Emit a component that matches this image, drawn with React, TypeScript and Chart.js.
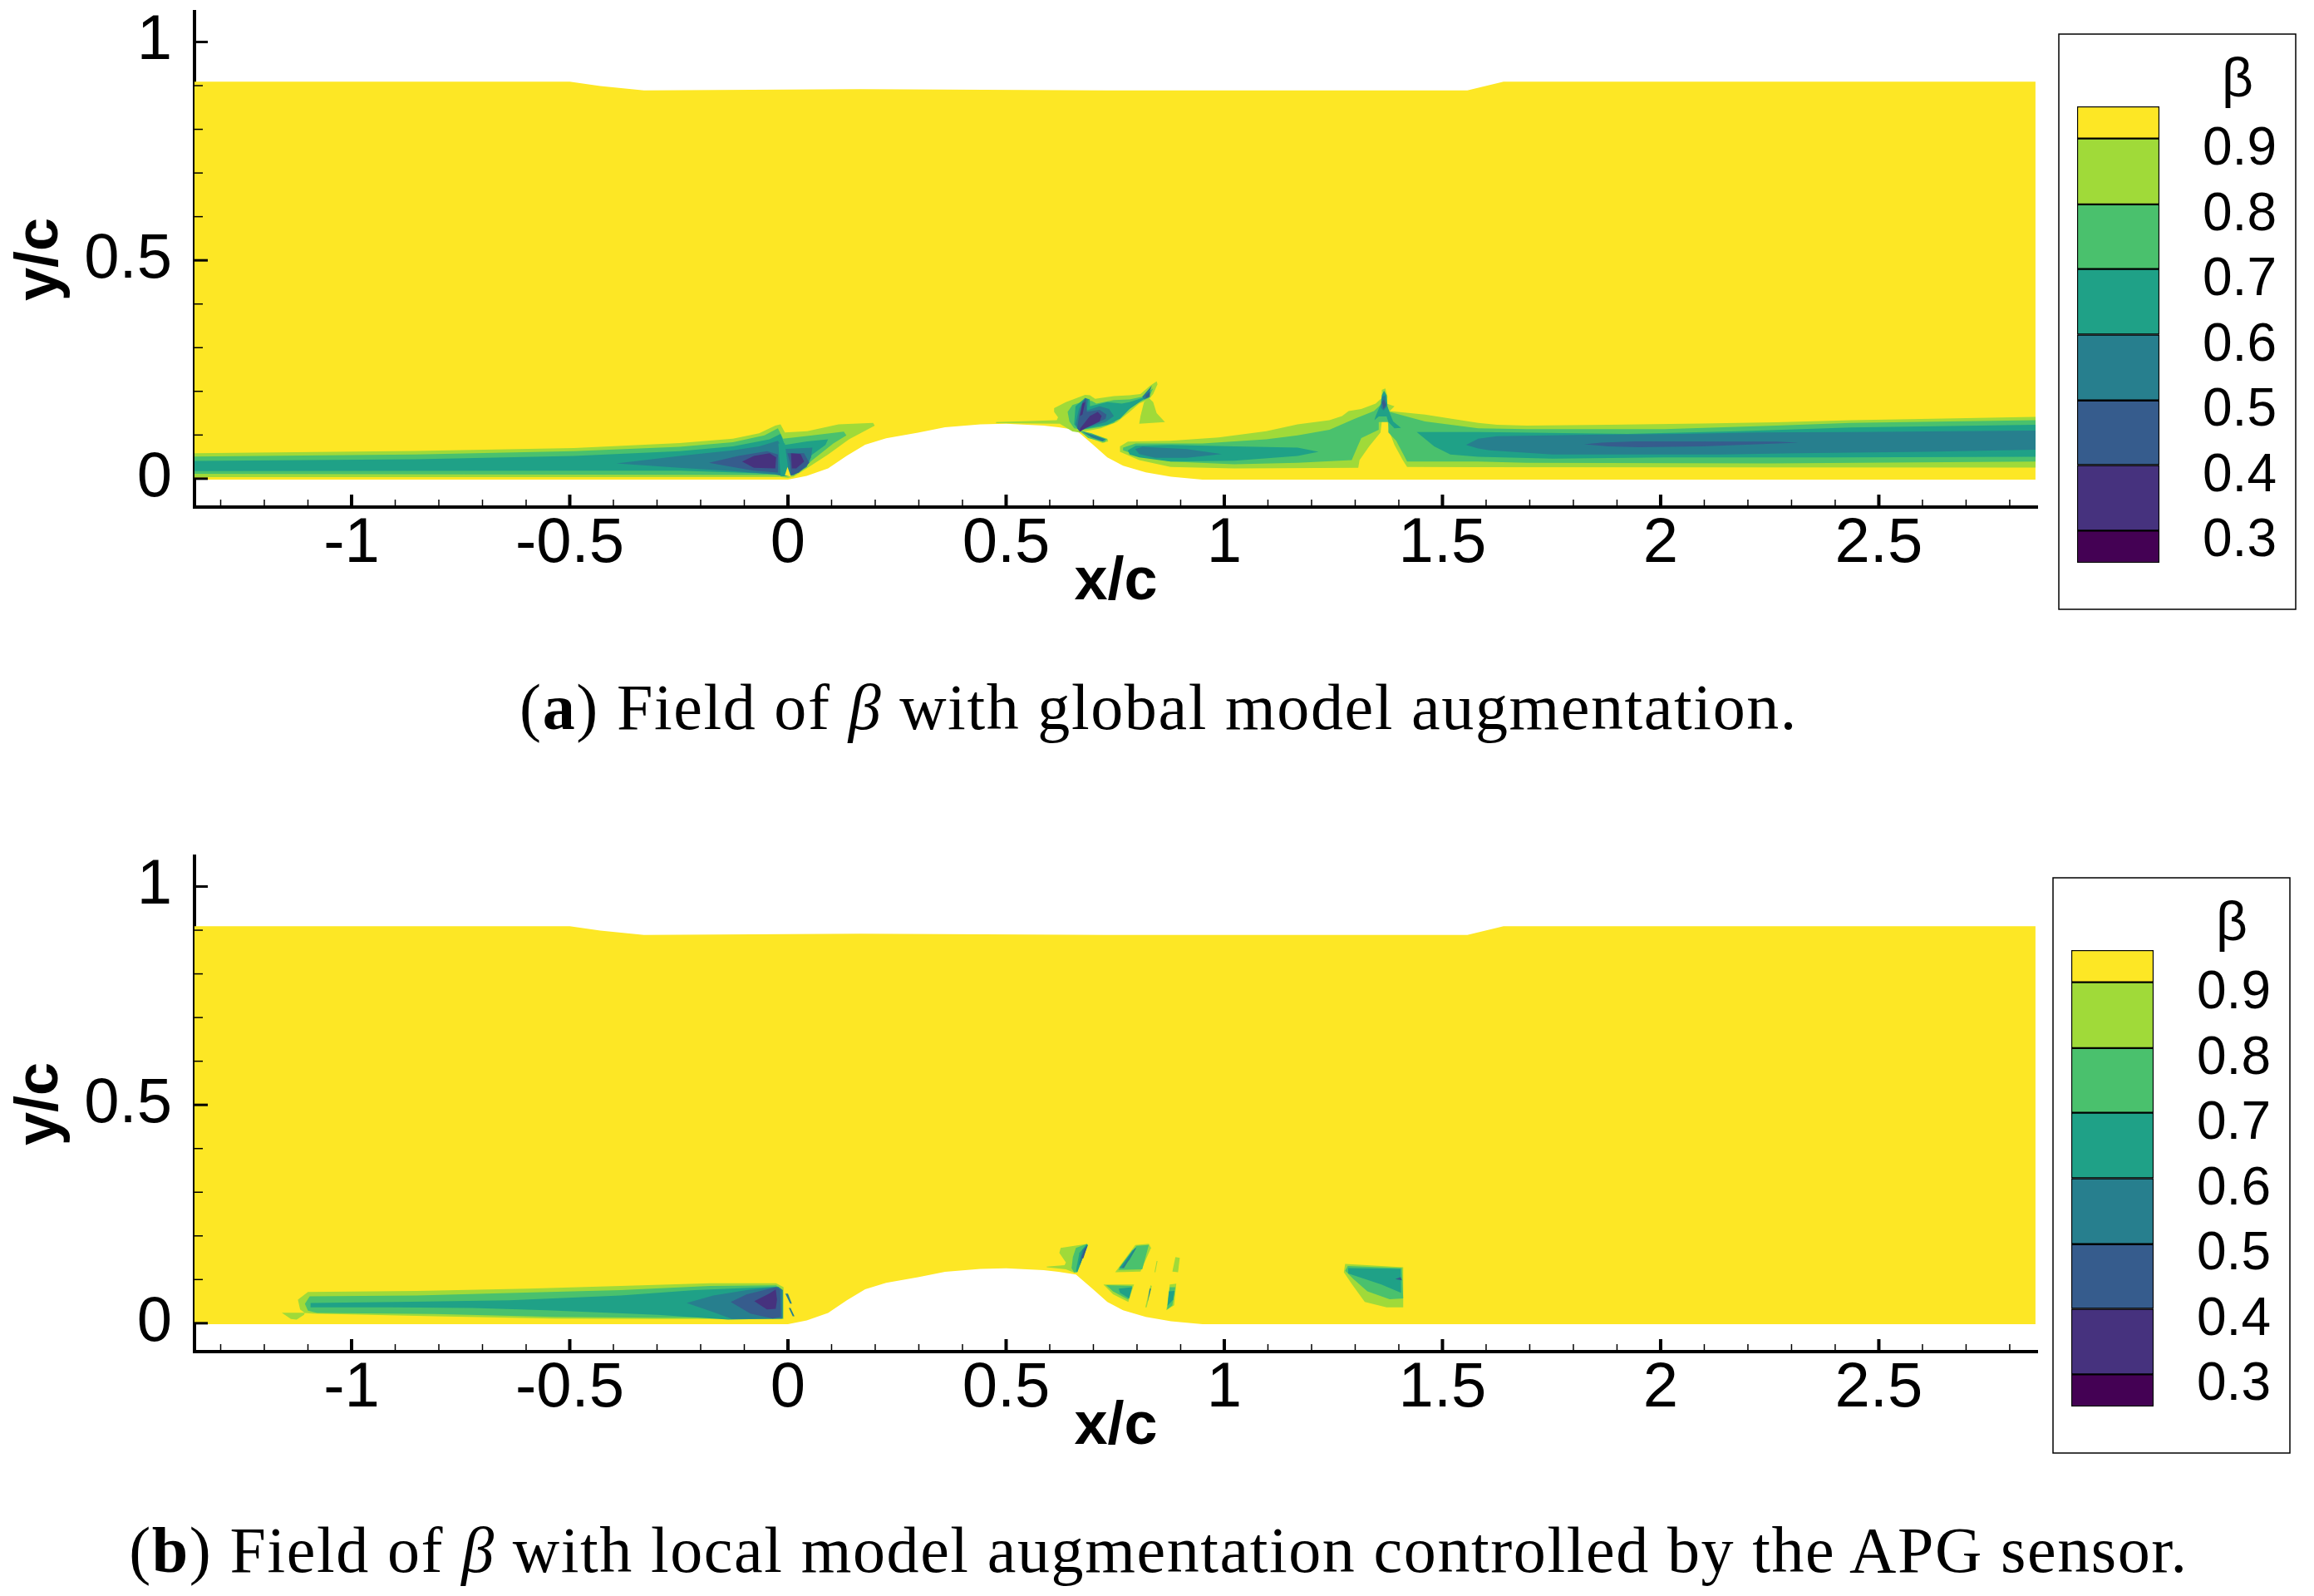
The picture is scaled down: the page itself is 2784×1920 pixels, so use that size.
import React, { useEffect, useRef } from "react";
import { Chart, registerables } from "chart.js";

Chart.register(...registerables);

const xMajor = [-1, -0.5, 0, 0.5, 1, 1.5, 2, 2.5];
const xMinor = [-1.3, -1.2, -1.1, -0.9, -0.8, -0.7, -0.6, -0.4, -0.3, -0.2, -0.1, 0.1, 0.2, 0.3, 0.4, 0.6, 0.7, 0.8, 0.9, 1.1, 1.2, 1.3, 1.4, 1.6, 1.7, 1.8, 1.9, 2.1, 2.2, 2.3, 2.4, 2.6, 2.7, 2.8];
const yMajor = [0, 0.5, 1];
const yMinor = [0.1, 0.2, 0.3, 0.4, 0.6, 0.7, 0.8, 0.9];
const legendLabels = [0.9, 0.8, 0.7, 0.6, 0.5, 0.4, 0.3];
const legendEdges = [0.967, 0.9177, 0.8167, 0.7176, 0.6171, 0.5162, 0.417, 0.3166, 0.2673];
const bandColors = ["#FDE725", "#A0DA39", "#4AC16D", "#1FA187", "#277F8E", "#365C8D", "#46327E", "#440154"];

type P = number[][];
const upperWall: P = [[-1.36, 0.909], [-0.5, 0.909], [-0.43, 0.899], [-0.33, 0.889], [0.166, 0.892], [0.73, 0.889], [1.557, 0.889], [1.64, 0.909], [2.859, 0.909]];
const lowerWall: P = [[2.859, -0.002], [0.95, -0.002], [0.878, 0.0045], [0.82, 0.0145], [0.768, 0.0295], [0.732, 0.0485], [0.696, 0.0806], [0.66, 0.1116], [0.62, 0.1176], [0.586, 0.1216], [0.5, 0.1256], [0.441, 0.1246], [0.36, 0.1176], [0.298, 0.1056], [0.225, 0.0926], [0.177, 0.0776], [0.135, 0.0526], [0.092, 0.0236], [0.043, 0.0066], [0, -0.002], [-1.36, -0.002]];
const domain: P = [...upperWall, ...lowerWall];
const readingOffsetA = -0.0055;
const readingOffsetB = -0.0023;

// Panel (a): upstream wake
const aUp9: P = [[-1.36, 0.0638], [-0.854, 0.0689], [-0.49, 0.0758], [-0.248, 0.0872], [-0.126, 0.0973], [-0.066, 0.1093], [-0.029, 0.127], [-0.017, 0.1301], [-0.007, 0.1112], [0.044, 0.1143], [0.116, 0.1301], [0.195, 0.1333], [0.199, 0.127], [0.14, 0.0954], [0.092, 0.0607], [0.043, 0.0291], [0.013, 0.0102], [0, 0.007], [-0.017, 0.0089], [-1.36, 0.0089]];
const aUp8: P = [[-1.36, 0.0563], [-0.854, 0.0607], [-0.49, 0.0683], [-0.248, 0.0784], [-0.126, 0.0891], [-0.054, 0.1049], [-0.023, 0.1207], [-0.011, 0.0973], [0.056, 0.1049], [0.128, 0.1131], [0.134, 0.1049], [0.104, 0.086], [0.056, 0.048], [0.025, 0.0196], [0.001, 0.0114], [-0.017, 0.014], [-1.36, 0.0165]];
const aUp7: P = [[-1.36, 0.0462], [-0.854, 0.05], [-0.49, 0.0575], [-0.248, 0.0683], [-0.126, 0.0796], [-0.042, 0.0954], [-0.017, 0.108], [-0.007, 0.0828], [0.044, 0.091], [0.092, 0.0954], [0.086, 0.0828], [0.056, 0.0607], [0.025, 0.0259], [0.001, 0.0152], [-0.029, 0.0165], [-0.248, 0.024], [-0.49, 0.024], [-1.36, 0.0228]];
const aUp6: P = [[-0.393, 0.0405], [-0.248, 0.0575], [-0.126, 0.0702], [-0.066, 0.0796], [-0.023, 0.0922], [-0.011, 0.0733], [0.056, 0.0765], [0.053, 0.0544], [0.043, 0.0323], [0.013, 0.0133], [-0.011, 0.0114], [-0.029, 0.0152], [-0.126, 0.0228], [-0.248, 0.0304]];
const aUp5L: P = [[-0.181, 0.0417], [-0.114, 0.0575], [-0.048, 0.0683], [-0.023, 0.0607], [-0.023, 0.0196], [-0.078, 0.024], [-0.138, 0.0342]];
const aUp5R: P = [[-0.001, 0.0638], [0.037, 0.0638], [0.049, 0.0417], [0.025, 0.0196], [0.007, 0.0133], [0.005, 0.0417]];
const aUp4L: P = [[-0.105, 0.0449], [-0.078, 0.0575], [-0.042, 0.0638], [-0.027, 0.0544], [-0.029, 0.0291], [-0.078, 0.0304]];
const aUp4R: P = [[0.007, 0.0638], [0.029, 0.0619], [0.037, 0.0449], [0.019, 0.0291], [0.009, 0.0291]];
const aStripe7: P = [[-0.022, 0.086], [-0.007, 0.086], [0.003, 0.0114], [-0.017, 0.0114]];
const aSliver: P = [[-0.001, 0.0323], [0.007, 0.0102], [-0.007, 0.0133]];

// Panel (a): crest separation patch
const aCrest9: P = [[0.477, 0.1352], [0.616, 0.1396], [0.619, 0.1459], [0.61, 0.1586], [0.61, 0.1668], [0.637, 0.1807], [0.681, 0.1977], [0.692, 0.1964], [0.704, 0.1882], [0.747, 0.1945], [0.783, 0.1964], [0.808, 0.1996], [0.83, 0.2185], [0.845, 0.2286], [0.847, 0.2217], [0.837, 0.1996], [0.827, 0.187], [0.805, 0.1775], [0.783, 0.1586], [0.754, 0.1352], [0.717, 0.1207], [0.667, 0.1112], [0.652, 0.1137], [0.623, 0.1314], [0.477, 0.1327]];
const aTri9: P = [[0.816, 0.1807], [0.827, 0.1901], [0.837, 0.1807], [0.845, 0.1554], [0.864, 0.1352], [0.805, 0.1314], [0.808, 0.1491]];
const aStreak9: P = [[0.663, 0.1163], [0.696, 0.108], [0.732, 0.0973], [0.734, 0.091], [0.721, 0.0872], [0.692, 0.0986]];
const aStreak8: P = [[0.668, 0.1163], [0.696, 0.1093], [0.732, 0.0954], [0.725, 0.0891], [0.688, 0.0986]];
const aStreak6: P = [[0.674, 0.1131], [0.703, 0.1049], [0.728, 0.0954], [0.721, 0.091], [0.696, 0.0998]];
const aCrest8: P = [[0.641, 0.1586], [0.652, 0.1743], [0.681, 0.1838], [0.696, 0.1838], [0.707, 0.1775], [0.747, 0.1857], [0.783, 0.187], [0.812, 0.1933], [0.827, 0.2059], [0.837, 0.2122], [0.827, 0.1901], [0.805, 0.1807], [0.772, 0.1586], [0.747, 0.1333], [0.717, 0.1238], [0.674, 0.1175], [0.656, 0.1207], [0.645, 0.1365]];
const aCrest7: P = [[0.659, 0.1712], [0.681, 0.1901], [0.692, 0.187], [0.692, 0.1712], [0.732, 0.1807], [0.765, 0.1775], [0.783, 0.1807], [0.812, 0.1901], [0.827, 0.2027], [0.837, 0.2154], [0.819, 0.1901], [0.783, 0.1649], [0.761, 0.1428], [0.732, 0.1289], [0.688, 0.1207], [0.667, 0.1163], [0.656, 0.1301]];
const aCrest6: P = [[0.667, 0.1649], [0.681, 0.1901], [0.688, 0.187], [0.685, 0.1617], [0.714, 0.1712], [0.736, 0.1649], [0.747, 0.1491], [0.728, 0.1352], [0.688, 0.1238], [0.667, 0.1163], [0.659, 0.1301]];
const aCross6: P = [[0.834, 0.2185], [0.827, 0.1996], [0.83, 0.1933], [0.816, 0.187], [0.812, 0.1933], [0.823, 0.2059]];
const aCross5: P = [[0.82, 0.197], [0.83, 0.205], [0.829, 0.195], [0.82, 0.189]];
const aCrest5: P = [[0.667, 0.1491], [0.675, 0.1807], [0.683, 0.1882], [0.685, 0.1586], [0.714, 0.163], [0.73, 0.1522], [0.728, 0.1428], [0.696, 0.127], [0.668, 0.1144], [0.663, 0.1207]];
const aCrest4A: P = [[0.669, 0.1491], [0.675, 0.1775], [0.681, 0.1807], [0.675, 0.1523]];
const aCrest4B: P = [[0.67, 0.1207], [0.692, 0.1491], [0.71, 0.1586], [0.719, 0.1491], [0.714, 0.1365], [0.681, 0.1207], [0.668, 0.1125]];

// Panel (a): long downstream wake
const aLong9: P = [[0.761, 0.0796], [0.779, 0.0904], [0.877, 0.0923], [0.987, 0.0998], [1.096, 0.1144], [1.168, 0.1301], [1.241, 0.1396], [1.27, 0.1491], [1.285, 0.1605], [1.314, 0.1649], [1.347, 0.1775], [1.361, 0.1901], [1.361, 0.2091], [1.369, 0.2122], [1.374, 0.1933], [1.372, 0.1775], [1.39, 0.1712], [1.379, 0.1605], [1.46, 0.1522], [1.582, 0.1333], [1.625, 0.1289], [1.693, 0.127], [1.881, 0.1289], [2.094, 0.132], [2.265, 0.1345], [2.436, 0.1396], [2.623, 0.1428], [2.859, 0.1472], [2.859, 0.031], [1.582, 0.0318], [1.419, 0.0323], [1.409, 0.0481], [1.39, 0.0828], [1.379, 0.1112], [1.374, 0.1365], [1.361, 0.1365], [1.358, 0.1112], [1.332, 0.0796], [1.31, 0.0481], [1.307, 0.0304], [1.023, 0.0291], [0.877, 0.0323], [0.805, 0.0481], [0.761, 0.067]];
const aLong8: P = [[0.768, 0.0765], [0.797, 0.086], [0.95, 0.086], [1.096, 0.0954], [1.168, 0.1049], [1.241, 0.1175], [1.299, 0.1428], [1.343, 0.1605], [1.365, 0.1807], [1.379, 0.1586], [1.46, 0.1365], [1.582, 0.1207], [1.693, 0.1188], [2.009, 0.1188], [2.265, 0.127], [2.436, 0.1333], [2.859, 0.1396], [2.859, 0.0449], [2.248, 0.0405], [1.693, 0.0417], [1.582, 0.0449], [1.419, 0.0449], [1.394, 0.0923], [1.376, 0.1112], [1.376, 0.1352], [1.354, 0.1352], [1.354, 0.1175], [1.314, 0.0986], [1.307, 0.0828], [1.292, 0.0481], [1.168, 0.0418], [1.023, 0.0386], [0.877, 0.0449], [0.805, 0.0575], [0.768, 0.0702]];
const aNear7: P = [[0.779, 0.0702], [0.797, 0.0809], [0.877, 0.0828], [1.023, 0.0796], [1.168, 0.0765], [1.216, 0.067], [1.168, 0.0575], [1.023, 0.0468], [0.877, 0.0449], [0.805, 0.0544], [0.783, 0.0607]];
const aNear6: P = [[0.796, 0.0733], [0.812, 0.0784], [0.914, 0.0733], [0.994, 0.062], [0.914, 0.0531], [0.841, 0.0531], [0.805, 0.062]];
const aFar7: P = [[1.441, 0.1125], [1.582, 0.1125], [1.667, 0.1112], [1.923, 0.108], [2.18, 0.1143], [2.436, 0.1226], [2.859, 0.1289], [2.859, 0.0556], [2.393, 0.0544], [2.009, 0.0544], [1.753, 0.0512], [1.582, 0.0555], [1.518, 0.0607], [1.481, 0.0796]];
const aFar6: P = [[1.554, 0.0828], [1.582, 0.0973], [1.625, 0.103], [1.838, 0.1061], [2.052, 0.108], [2.222, 0.1112], [2.436, 0.1125], [2.859, 0.1156], [2.859, 0.072], [2.606, 0.067], [2.308, 0.0638], [2.137, 0.0607], [1.753, 0.0607], [1.608, 0.0702], [1.582, 0.0746]];
const aFar5: P = [[1.825, 0.084], [1.864, 0.0878], [1.941, 0.091], [2.265, 0.0903], [2.316, 0.0878], [2.094, 0.0796], [1.949, 0.0777], [1.881, 0.0796]];
const aPeak7: P = [[1.347, 0.1491], [1.359, 0.1775], [1.361, 0.1964], [1.366, 0.2072], [1.372, 0.1964], [1.374, 0.1712], [1.379, 0.1567], [1.387, 0.1365], [1.405, 0.1219], [1.39, 0.1207], [1.376, 0.1352], [1.372, 0.1478], [1.354, 0.1478], [1.344, 0.1396]];
const aPeak6: P = [[1.359, 0.168], [1.362, 0.193], [1.369, 0.196], [1.372, 0.171], [1.365, 0.162]];
const aPeak5: P = [[1.361, 0.181], [1.366, 0.187], [1.371, 0.174], [1.365, 0.165]];

// Panel (b)
const bUp9: P = [[-1.107, 0.0259], [-1.118, 0.034], [-1.123, 0.0562], [-1.1, 0.0739], [-0.85, 0.0764], [-0.595, 0.0814], [-0.383, 0.0877], [-0.179, 0.094], [-0.027, 0.094], [-0.01, 0.0846], [-0.01, 0.012], [-0.298, 0.012], [-0.536, 0.0132], [-0.808, 0.0183], [-1.088, 0.0246]];
const bTip9: P = [[-1.16, 0.0262], [-1.107, 0.0262], [-1.109, 0.0215], [-1.126, 0.0107], [-1.139, 0.0119]];
const bUp8: P = [[-1.107, 0.0467], [-1.096, 0.0638], [-0.85, 0.0656], [-0.638, 0.0713], [-0.383, 0.0783], [-0.179, 0.0877], [-0.027, 0.089], [-0.012, 0.0783], [-0.012, 0.0151], [-0.298, 0.0151], [-0.536, 0.017], [-0.808, 0.0233], [-1.079, 0.0259], [-1.1, 0.031]];
const bUp7: P = [[-1.094, 0.0486], [-0.892, 0.0511], [-0.638, 0.0549], [-0.383, 0.0656], [-0.213, 0.0783], [-0.027, 0.0858], [-0.014, 0.0783], [-0.014, 0.0132], [-0.137, 0.0107], [-0.298, 0.0215], [-0.553, 0.0322], [-0.723, 0.0372], [-0.905, 0.0385], [-1.094, 0.0385]];
const bUp6: P = [[-0.232, 0.0486], [-0.171, 0.0656], [-0.094, 0.0783], [-0.022, 0.0858], [-0.012, 0.0783], [-0.012, 0.0132], [-0.128, 0.012], [-0.171, 0.0278]];
const bUp5: P = [[-0.131, 0.0511], [-0.094, 0.0688], [-0.027, 0.0846], [-0.018, 0.0802], [-0.016, 0.017], [-0.035, 0.0132], [-0.086, 0.0246]];
const bUp4: P = [[-0.077, 0.053], [-0.043, 0.07], [-0.028, 0.0795], [-0.025, 0.0562], [-0.028, 0.0353], [-0.048, 0.034], [-0.065, 0.0448]];
const bDashA: P = [[-0.006, 0.07], [0, 0.07], [0.009, 0.047], [0.005, 0.047]];
const bDashB: P = [[0.002, 0.037], [0.006, 0.037], [0.015, 0.018], [0.011, 0.018]];
const bP1a: P = [[0.593, 0.1319], [0.634, 0.1351], [0.637, 0.1414], [0.622, 0.1635], [0.625, 0.1749], [0.656, 0.1793], [0.685, 0.1837], [0.688, 0.1824], [0.663, 0.1288], [0.656, 0.118], [0.637, 0.1256], [0.593, 0.1307]];
const bP1b: P = [[0.65, 0.1288], [0.653, 0.154], [0.66, 0.1749], [0.685, 0.1837], [0.687, 0.1793], [0.663, 0.1193], [0.656, 0.118]];
const bP1c: P = [[0.66, 0.1225], [0.668, 0.1635], [0.685, 0.1837], [0.686, 0.1793], [0.663, 0.1193]];
const bP1d: P = [[0.668, 0.1414], [0.675, 0.1698], [0.687, 0.1824], [0.669, 0.1351]];
const bP1e: P = [[0.672, 0.1509], [0.68, 0.173], [0.687, 0.1812], [0.677, 0.1509]];
const bP2a: P = [[0.75, 0.1193], [0.796, 0.1812], [0.827, 0.1843], [0.832, 0.1749], [0.808, 0.1206]];
const bP2b: P = [[0.757, 0.1244], [0.799, 0.1793], [0.827, 0.1812], [0.812, 0.1256]];
const bP2c: P = [[0.759, 0.1288], [0.789, 0.1685], [0.799, 0.1761], [0.783, 0.1477], [0.764, 0.1288]];
const bP2d: P = [[0.764, 0.1288], [0.796, 0.1749], [0.797, 0.1725], [0.77, 0.1288]];
const bP3a: P = [[0.723, 0.0909], [0.793, 0.0909], [0.78, 0.0511], [0.745, 0.0688]];
const bP3b: P = [[0.729, 0.0896], [0.789, 0.0877], [0.78, 0.0562], [0.745, 0.0751]];
const bP3c: P = [[0.758, 0.0814], [0.789, 0.0846], [0.782, 0.0593], [0.761, 0.072]];
const bThinA: P = [[0.831, 0.089], [0.834, 0.0877], [0.822, 0.0385], [0.819, 0.0385]];
const bThinB: P = [[0.829, 0.0814], [0.832, 0.0814], [0.824, 0.05], [0.823, 0.05]];
const bThinC: P = [[0.847, 0.145], [0.845, 0.145], [0.84, 0.119], [0.842, 0.119]];
const bP5: P = [[0.888, 0.154], [0.898, 0.1521], [0.894, 0.1193], [0.881, 0.1206]];
const bP6a: P = [[0.875, 0.091], [0.89, 0.0928], [0.885, 0.0435], [0.867, 0.0322], [0.869, 0.0435]];
const bP6b: P = [[0.875, 0.0846], [0.888, 0.0846], [0.881, 0.0435], [0.869, 0.034]];
const bP6c: P = [[0.873, 0.0751], [0.886, 0.0764], [0.883, 0.0562], [0.87, 0.0423]];
const bP7a: P = [[1.277, 0.1382], [1.41, 0.1307], [1.41, 0.0385], [1.372, 0.0385], [1.322, 0.0511], [1.293, 0.0909], [1.274, 0.1193]];
const bP7b: P = [[1.283, 0.1332], [1.407, 0.1288], [1.41, 0.0593], [1.379, 0.0574], [1.328, 0.0751], [1.296, 0.1035], [1.277, 0.1225]];
const bP7c: P = [[1.284, 0.1288], [1.404, 0.1269], [1.405, 0.072], [1.36, 0.0909], [1.284, 0.1161]];
const bP7d: P = [[1.392, 0.1035], [1.404, 0.108], [1.407, 0.1004]];

// [band index, polygon], back to front
const panelA: [number, P][] = [
  [1, aUp9], [2, aUp8], [3, aUp7], [4, aUp6], [5, aUp5L], [5, aUp5R], [6, aUp4L], [6, aUp4R], [3, aStripe7], [0, aSliver],
  [1, aCrest9], [1, aTri9], [1, aStreak9], [2, aStreak8], [4, aStreak6],
  [2, aCrest8], [3, aCrest7], [4, aCrest6], [4, aCross6], [5, aCross5], [5, aCrest5], [6, aCrest4A], [6, aCrest4B],
  [1, aLong9], [2, aLong8], [3, aNear7], [4, aNear6], [3, aFar7], [4, aFar6], [5, aFar5], [3, aPeak7], [4, aPeak6], [5, aPeak5],
];
const panelB: [number, P][] = [
  [1, bUp9], [1, bTip9], [2, bUp8], [3, bUp7], [4, bUp6], [5, bUp5], [6, bUp4], [4, bDashA], [4, bDashB],
  [1, bP1a], [2, bP1b], [3, bP1c], [4, bP1d], [5, bP1e],
  [1, bP2a], [2, bP2b], [3, bP2c], [4, bP2d],
  [1, bP3a], [2, bP3b], [3, bP3c],
  [1, bThinA], [4, bThinB], [1, bThinC], [1, bP5],
  [1, bP6a], [2, bP6b], [3, bP6c],
  [1, bP7a], [2, bP7b], [3, bP7c], [5, bP7d],
];

const SANS = '"Liberation Sans", Arial, sans-serif';

const innerTicks = {
  id: "innerTicks",
  afterDatasetsDraw(chart: any) {
    const { ctx, scales, chartArea } = chart;
    ctx.save();
    ctx.strokeStyle = "#000";
    const xs = (vals: number[], len: number, w: number) => {
      ctx.lineWidth = w;
      vals.forEach((v) => {
        const p = scales.x.getPixelForValue(v);
        ctx.beginPath(); ctx.moveTo(p, chartArea.bottom); ctx.lineTo(p, chartArea.bottom - len); ctx.stroke();
      });
    };
    const ys = (vals: number[], len: number, w: number) => {
      ctx.lineWidth = w;
      vals.forEach((v) => {
        const p = scales.y.getPixelForValue(v);
        ctx.beginPath(); ctx.moveTo(chartArea.left, p); ctx.lineTo(chartArea.left + len, p); ctx.stroke();
      });
    };
    xs(xMajor, 15, 4); xs(xMinor, 9, 1.5); ys(yMajor, 16, 3); ys(yMinor, 10, 1.5);
    ctx.restore();
  },
};

const noScalePadding = (s: any) => { s.paddingTop = 0; s.paddingBottom = 0; s.paddingLeft = 0; s.paddingRight = 0; };

function makeField(canvas: HTMLCanvasElement, layers: [number, P][], offset: number) {
  const sets = [
    { band: 0, pts: domain.map(([x, y]) => ({ x, y })) },
    ...layers.map(([band, poly]) => ({ band, pts: poly.map(([x, y]) => ({ x, y: y + offset })) })),
  ];
  return new Chart(canvas, {
    type: "scatter",
    data: {
      datasets: sets.map(({ band, pts }, i) => ({
        data: pts,
        showLine: true,
        fill: "shape",
        borderWidth: 0,
        pointRadius: 0,
        tension: 0,
        backgroundColor: bandColors[band],
        borderColor: bandColors[band],
        order: sets.length - i,
      })),
    },
    plugins: [innerTicks],
    options: {
      responsive: false,
      animation: false,
      events: [],
      layout: { padding: { left: 0, top: 14, right: 19, bottom: 0 } },
      plugins: { legend: { display: false }, tooltip: { enabled: false } },
      scales: {
        x: {
          type: "linear", min: -1.36, max: 2.863,
          afterBuildTicks: (s: any) => { s.ticks = [...xMajor, ...xMinor].sort((a, b) => a - b).map((value) => ({ value })); },
          afterFit: (s: any) => { s.height = 150; noScalePadding(s); },
          grid: { display: false, drawTicks: false },
          border: { color: "#000", width: 4 },
          ticks: {
            autoSkip: false, maxRotation: 0, minRotation: 0, padding: -1, color: "#000",
            font: { family: SANS, size: 76 },
            callback: (v: any) => (xMajor.includes(v) ? String(v) : ""),
          },
          title: { display: true, text: "x/c", color: "#000", font: { family: SANS, size: 72, weight: "bold", lineHeight: 1 }, padding: { top: 0, bottom: 23 } },
        },
        y: {
          type: "linear", min: -0.065, max: 1.0695,
          afterBuildTicks: (s: any) => { s.ticks = [...yMajor, ...yMinor].sort((a, b) => a - b).map((value) => ({ value })); },
          afterFit: (s: any) => { s.width = 234; noScalePadding(s); },
          grid: { display: false, drawTicks: false },
          border: { color: "#000", width: 4 },
          ticks: {
            autoSkip: false, padding: 27, color: "#000",
            font: { family: SANS, size: 76 },
            callback: (v: any) => (yMajor.includes(v) ? String(v) : ""),
          },
          title: { display: true, text: "y/c", color: "#000", font: { family: SANS, size: 72, weight: "bold", lineHeight: 1 }, padding: { top: 13, bottom: 0 } },
        },
      },
    } as any,
  });
}

const legendFrame = {
  id: "legendFrame",
  afterDraw(chart: any) {
    const { ctx, width, height } = chart;
    ctx.save();
    ctx.strokeStyle = "#000";
    ctx.lineWidth = 1.5;
    ctx.strokeRect(1, 1, width - 2, height - 2);
    ctx.fillStyle = "#000";
    ctx.font = `66px ${SANS}`;
    ctx.textAlign = "center";
    ctx.textBaseline = "middle";
    ctx.fillText("β", 216, 58);
    ctx.restore();
  },
};

function makeLegend(canvas: HTMLCanvasElement) {
  return new Chart(canvas, {
    type: "bar",
    data: {
      labels: ["β"],
      datasets: bandColors.map((c, i) => ({
        data: [[legendEdges[i + 1], legendEdges[i]]],
        backgroundColor: c,
        borderColor: "#000",
        borderWidth: 1.5,
        borderSkipped: false,
        barPercentage: 1,
        categoryPercentage: 1,
        grouped: false,
      })),
    } as any,
    plugins: [legendFrame],
    options: {
      responsive: false,
      animation: false,
      events: [],
      layout: { padding: { left: 23, top: 88, right: 0, bottom: 57 } },
      plugins: { legend: { display: false }, tooltip: { enabled: false } },
      scales: {
        x: { display: false, grid: { display: false }, afterFit: noScalePadding },
        y: {
          type: "linear", position: "right", min: 0.2673, max: 0.967,
          afterBuildTicks: (s: any) => { s.ticks = legendLabels.map((value) => ({ value })); },
          afterFit: (s: any) => { s.width = 165; noScalePadding(s); },
          grid: { display: false, drawTicks: false },
          border: { display: false },
          ticks: { autoSkip: false, padding: 52, color: "#000", font: { family: SANS, size: 64 }, callback: (v: any) => Number(v).toFixed(1) },
        },
      },
    } as any,
  });
}

const captionStyle = (top: number): React.CSSProperties => ({
  position: "absolute", left: 0, width: 2788, top, textAlign: "center", whiteSpace: "nowrap",
  fontFamily: '"Liberation Serif", serif', fontSize: 78, lineHeight: "90px", color: "#000", letterSpacing: 1.6,
});

export default function App() {
  const a = useRef<HTMLCanvasElement>(null);
  const b = useRef<HTMLCanvasElement>(null);
  const la = useRef<HTMLCanvasElement>(null);
  const lb = useRef<HTMLCanvasElement>(null);
  useEffect(() => {
    const charts = [makeField(a.current!, panelA, readingOffsetA), makeField(b.current!, panelB, readingOffsetB), makeLegend(la.current!), makeLegend(lb.current!)];
    return () => charts.forEach((c) => c.destroy());
  }, []);
  const abs = (left: number, top: number): React.CSSProperties => ({ position: "absolute", left, top });
  return (
    <div style={{ position: "absolute", left: 0, top: 0, width: 2784, height: 1920, overflow: "hidden", background: "#fff" }}>
      <canvas ref={a} width={2470} height={760} style={abs(0, 0)} />
      <canvas ref={b} width={2470} height={760} style={abs(0, 1016)} />
      <canvas ref={la} width={287} height={694} style={abs(2476, 40)} />
      <canvas ref={lb} width={287} height={694} style={abs(2469, 1055)} />
      <div style={captionStyle(806)}>(<b>a</b>) Field of <i>β</i> with global model augmentation.</div>
      <div style={captionStyle(1820)}>(<b>b</b>) Field of <i>β</i> with local model augmentation controlled by the APG sensor.</div>
    </div>
  );
}
